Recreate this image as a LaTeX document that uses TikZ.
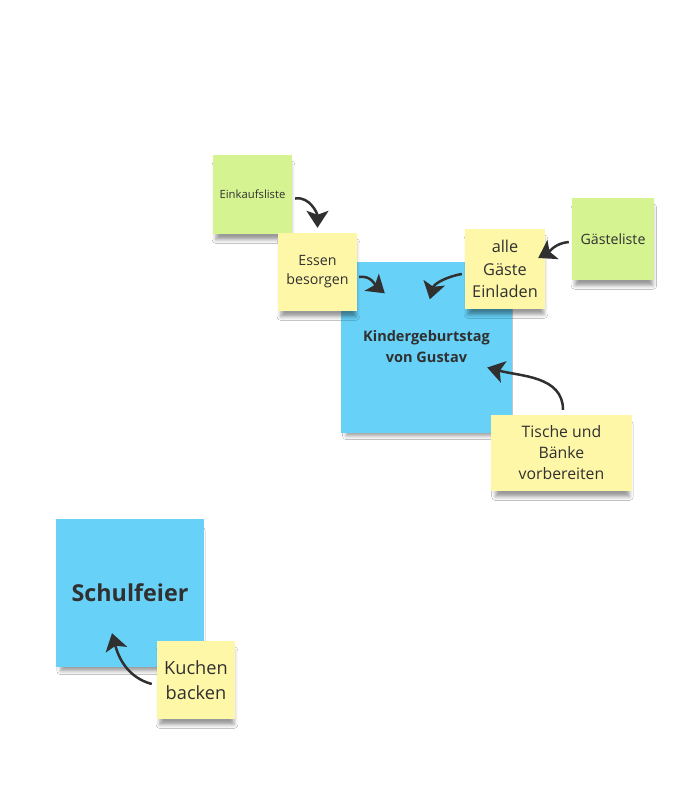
\documentclass[tikz,border=0pt]{standalone}
\usepackage{fontspec}
\setmainfont{Open Sans}
\usetikzlibrary{arrows.meta,calc,shadows.blur}
\definecolor{noteyellow}{RGB}{255,247,168}
\definecolor{notegreen}{RGB}{214,243,146}
\definecolor{noteblue}{RGB}{103,209,247}
\definecolor{inkgray}{RGB}{48,48,48}

\begin{document}
\begin{tikzpicture}[x=1pt,y=-1pt,
  note/.style={inner sep=0pt,align=center,text=inkgray,
    blur shadow={shadow xshift=1pt,shadow yshift=-8pt,shadow scale=0.95,shadow blur radius=4pt,shadow opacity=40}},
  yellownote/.style={note,fill=noteyellow},
  greennote/.style={note,fill=notegreen},
  bluenote/.style={note,fill=noteblue,font=\bfseries},
  link/.style={line width=2.5pt,draw=inkgray,-{Stealth[length=17pt,width=22pt,inset=4pt]}}]
\path[use as bounding box,fill=white](0,0)rectangle(700,800);

% Kindergeburtstag
\node[bluenote,minimum width=171pt,minimum height=171pt,font=\bfseries\fontsize{14.5}{21}\selectfont] (geburtstag) at (426.5,347) {Kindergeburtstag\\von Gustav};
\node[greennote,minimum width=79pt,minimum height=79pt,font=\fontsize{11.3}{13}\selectfont] (einkauf) at (252.5,194.5) {Einkaufsliste};
\node[yellownote,minimum width=79pt,minimum height=78pt,font=\fontsize{14.2}{19}\selectfont] (essen) at (317.5,272) {Essen\\besorgen};
\node[yellownote,minimum width=80pt,minimum height=80pt,font=\fontsize{16.3}{22.5}\selectfont] (gaesteeinladen) at (505,269) {alle\\Gäste\\Einladen};
\node[greennote,minimum width=82pt,minimum height=82pt,font=\fontsize{14.2}{15}\selectfont] (gaesteliste) at (613,239) {Gästeliste};
\node[yellownote,minimum width=141pt,minimum height=76pt,font=\fontsize{15.8}{21}\selectfont] (tische) at (561.5,453) {Tische und\\Bänke\\vorbereiten};

\draw[link]($(einkauf.east)+(3,4)$) to[out=10,in=90] ($(essen.north)+(0,-5)$);
\draw[link]($(essen.east)+(2,5)$) to[out=10,in=140] ($(geburtstag.north west)+(44,32)$);
\draw[link]($(gaesteeinladen.west)+(-3,5)$) to[out=190,in=75] ($(geburtstag.north west)+(89,38)$);
\draw[link]($(gaesteliste.west)+(-3,3)$) to[out=185,in=30] ($(gaesteeinladen.east)+(-7,-11)$);
\draw[link]($(tische.north)+(1.5,-5)$) to[out=90,in=345] ($(geburtstag.east)+(-25,20.5)$);

% Schulfeier
\node[bluenote,minimum width=148pt,minimum height=148pt,font=\bfseries\fontsize{23.3}{24}\selectfont] (schulfeier) at (130,593) {Schulfeier};
\node[yellownote,minimum width=78pt,minimum height=78pt,font=\fontsize{18.2}{25}\selectfont] (kuchen) at (196,680) {Kuchen\\backen};
\draw[link]($(kuchen.west)+(-5,4)$) to[out=165,in=285] ($(schulfeier.south)+(-18,-34)$);
\end{tikzpicture}
\end{document}
